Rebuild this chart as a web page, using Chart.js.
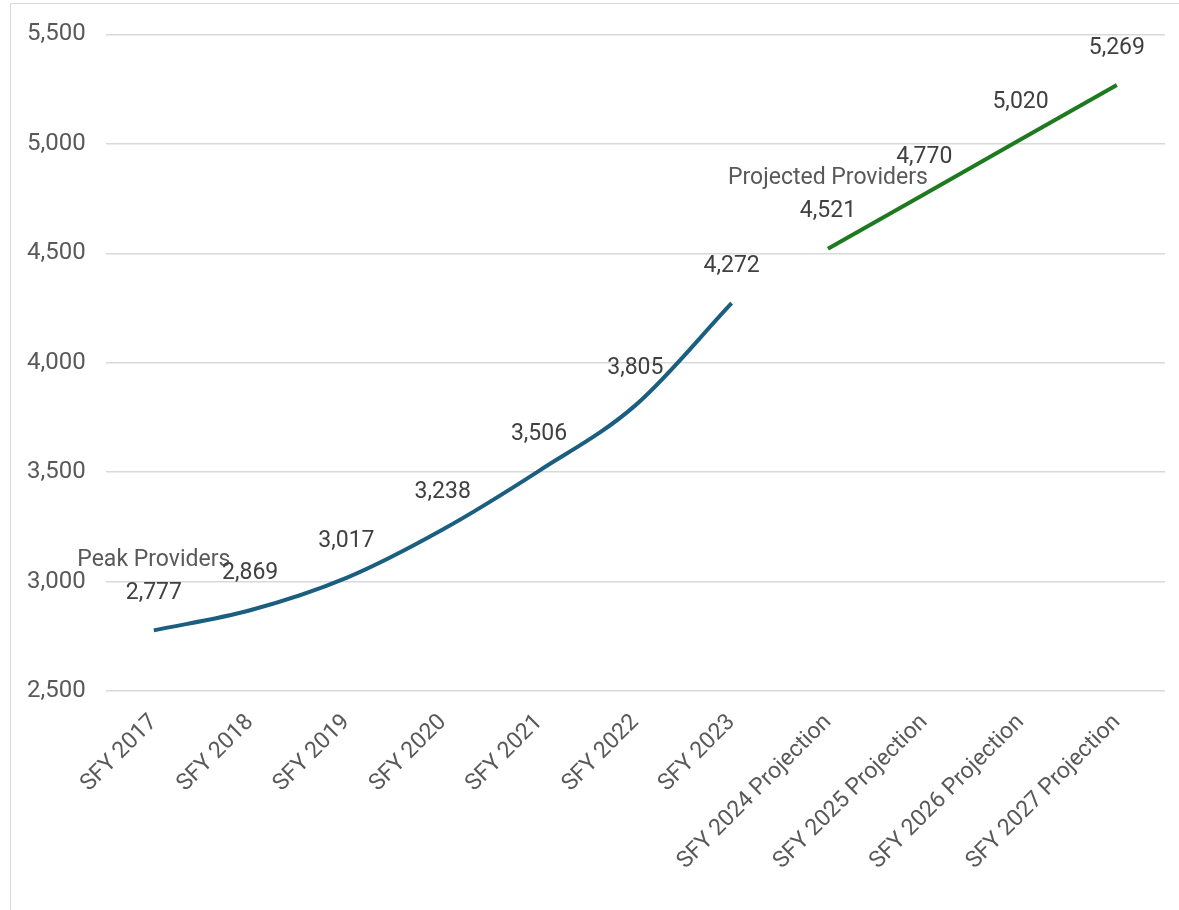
<!DOCTYPE html>
<html>
<head>
<meta charset="utf-8">
<script src="https://cdn.jsdelivr.net/npm/chart.js@4"></script>
<style>
  html, body { margin: 0; padding: 0; background: #fff; }
  #frame {
    position: absolute; left: 10px; top: 3px; width: 1175px; height: 910px;
    border: 1px solid #d9d9d9; box-sizing: border-box;
  }
  #wrap { position: absolute; left: 7px; top: 0; width: 1172px; height: 910px; }
</style>
</head>
<body>
<div id="frame"></div>
<div id="wrap"><canvas id="chart"></canvas></div>
<script>
// categories and values
const years = ['SFY 2017', 'SFY 2018', 'SFY 2019', 'SFY 2020', 'SFY 2021', 'SFY 2022', 'SFY 2023',
  'SFY 2024 Projection', 'SFY 2025 Projection', 'SFY 2026 Projection', 'SFY 2027 Projection'];
const peakProviders = [2777, 2869, 3017, 3238, 3506, 3805, 4272, null, null, null, null];
const projectedProviders = [null, null, null, null, null, null, null, 4521, 4770, 5020, 5269];
const yTicks = [2500, 3000, 3500, 4000, 4500, 5000, 5500];

const fontFamily = 'Roboto, "Liberation Sans", sans-serif';

// draws the value above each point, plus the series name above the first point
const valueLabels = {
  id: 'valueLabels',
  afterDatasetsDraw(chart) {
    const ctx = chart.ctx;
    ctx.save();
    ctx.textAlign = 'center';
    ctx.textBaseline = 'middle';
    chart.data.datasets.forEach((ds, i) => {
      const meta = chart.getDatasetMeta(i);
      let first = true;
      meta.data.forEach((pt, j) => {
        const v = ds.data[j];
        if (v == null) return;
        ctx.fillStyle = '#404040';
        ctx.font = '23px ' + fontFamily;
        ctx.fillText(v.toLocaleString('en-US'), pt.x, pt.y - 37);
        if (first) {
          ctx.fillStyle = '#595959';
          ctx.fillText(ds.label, pt.x, pt.y - 70);
          first = false;
        }
      });
    });
    ctx.restore();
  }
};

new Chart(document.getElementById('chart'), {
  type: 'line',
  data: {
    labels: years,
    datasets: [
      {
        label: 'Peak Providers',
        data: peakProviders,
        borderColor: '#1a5f80',
        borderWidth: 4,
        pointRadius: 0,
        cubicInterpolationMode: 'monotone',
        spanGaps: false
      },
      {
        label: 'Projected Providers',
        data: projectedProviders,
        borderColor: '#1e7a1e',
        borderWidth: 4,
        pointRadius: 0,
        spanGaps: false
      }
    ]
  },
  options: {
    responsive: true,
    maintainAspectRatio: false,
    animation: false,
    layout: { padding: { top: 16, right: 14, left: 0, bottom: 25 } },
    plugins: {
      legend: { display: false },
      tooltip: { enabled: false }
    },
    scales: {
      x: {
        offset: true,
        grid: { display: false },
        border: { display: false },
        ticks: {
          color: '#595959',
          font: { family: fontFamily, size: 23 },
          minRotation: 45,
          maxRotation: 45,
          padding: 10
        }
      },
      y: {
        min: yTicks[0],
        max: yTicks[yTicks.length - 1],
        afterBuildTicks(axis) {
          axis.ticks = yTicks.map(v => ({ value: v }));
        },
        grid: { color: '#d9d9d9', lineWidth: 1.5, drawTicks: false },
        border: { display: false },
        ticks: {
          color: '#595959',
          font: { family: fontFamily, size: 24 },
          padding: 20,
          callback: v => v.toLocaleString('en-US')
        }
      }
    }
  },
  plugins: [valueLabels]
});
</script>
</body>
</html>
